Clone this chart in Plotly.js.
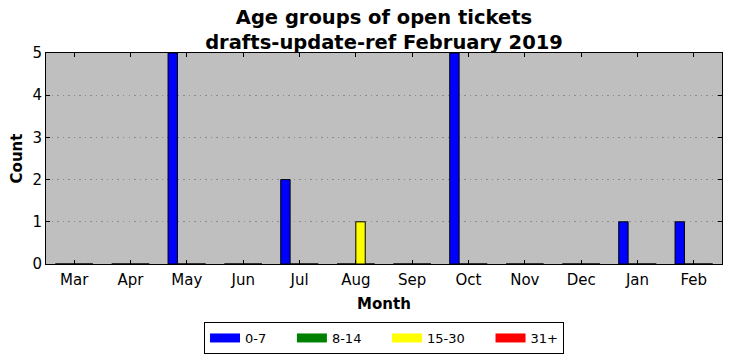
<!DOCTYPE html>
<html>
<head>
<meta charset="utf-8">
<script src="https://cdn.plot.ly/plotly-3.0.1.min.js"></script>
<style>html,body{margin:0;padding:0;background:#fff;}#chart{width:732px;height:361px;}</style>
</head>
<body>
<div id="chart"></div>
<script>
const months = ["Mar","Apr","May","Jun","Jul","Aug","Sep","Oct","Nov","Dec","Jan","Feb"];
const age0to7   = [0,0,5,0,2,0,0,5,0,0,1,1];
const age8to14  = [0,0,0,0,0,0,0,0,0,0,0,0];
const age15to30 = [0,0,0,0,0,1,0,0,0,0,0,0];
const age31plus = [0,0,0,0,0,0,0,0,0,0,0,0];
const seriesNames = ["0-7","8-14","15-30","31+"];
const seriesColors = ["#0000ff","#008000","#ffff00","#ff0000"];
const seriesData = [age0to7, age8to14, age15to30, age31plus];
const yTicks = [0,1,2,3,4,5];

const NB = '\u00a0';
const traces = seriesData.map((vals, i) => ({
  type: 'bar',
  name: seriesNames[i],
  x: months,
  y: vals,
  marker: {color: seriesColors[i], line: {color: '#000', width: 1}},
  showlegend: false,
  hoverinfo: 'skip'
}));
// legend-only entries (wide rectangle swatches like the reference)
seriesNames.forEach((n, i) => {
  traces.push({
    type: 'scatter', mode: 'lines',
    x: [null], y: [null],
    name: n + (i < seriesNames.length - 1 ? NB.repeat(5) : ''),
    line: {color: seriesColors[i], width: 9},
    showlegend: true,
    hoverinfo: 'skip'
  });
});

const font = {family: 'DejaVu Sans, sans-serif', color: '#000'};
const layout = {
  width: 732, height: 361,
  margin: {l: 46, r: 10, t: 53, b: 97, autoexpand: false},
  paper_bgcolor: '#ffffff',
  plot_bgcolor: '#bfbfbf',
  barmode: 'group',
  bargap: 0.3333,
  bargroupgap: 0,
  font: Object.assign({size: 15}, font),
  title: {
    text: '<b>Age groups of open tickets<br>drafts-update-ref February 2019</b>',
    font: Object.assign({}, font, {size: 19.5}),
    x: 0.5, xref: 'paper', xanchor: 'center',
    y: 1, yref: 'paper', yanchor: 'bottom',
    pad: {b: 29}
  },
  xaxis: {
    type: 'category',
    range: [-0.5, 11.5],
    ticks: 'inside', ticklen: 4, tickcolor: '#000',
    ticklabelstandoff: 2,
    showline: true, linecolor: '#000', linewidth: 1, mirror: 'ticks',
    showgrid: false, zeroline: false,
    tickfont: Object.assign({}, font, {size: 15}),
    title: {text: '<b>Month</b>', font: Object.assign({}, font, {size: 15}), standoff: 10}
  },
  yaxis: {
    range: [0, 5],
    tickvals: yTicks,
    ticks: 'inside', ticklen: 4, tickcolor: '#000',
    showline: true, linecolor: '#000', linewidth: 1, mirror: 'ticks',
    showgrid: true, gridcolor: '#8c8c8c', gridwidth: 1, griddash: '1.5px,4px',
    zeroline: false,
    tickfont: Object.assign({}, font, {size: 15}),
    title: {text: '<b>Count</b>', font: Object.assign({}, font, {size: 15}), standoff: 6}
  },
  showlegend: true,
  legend: {
    orientation: 'h',
    x: 0.5, xanchor: 'center', xref: 'paper',
    y: 0.108, yanchor: 'top', yref: 'container',
    bordercolor: '#000', borderwidth: 1,
    bgcolor: '#fff',
    font: Object.assign({}, font, {size: 13}),
    traceorder: 'normal'
  }
};

Plotly.newPlot('chart', traces, layout, {staticPlot: true, displayModeBar: false});
</script>
</body>
</html>
